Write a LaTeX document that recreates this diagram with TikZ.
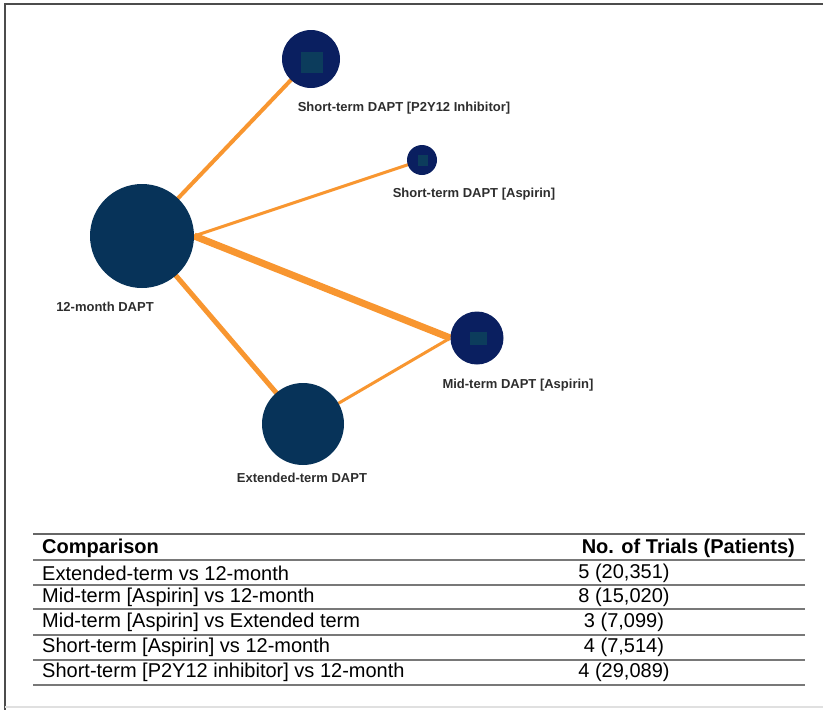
\documentclass[tikz,border=0pt]{standalone}
\usepackage{fontspec}
\setmainfont{Liberation Sans}
\usetikzlibrary{positioning, backgrounds}

\definecolor{bignode}{RGB}{7,51,89}
\definecolor{smallnode}{RGB}{10,31,96}
\definecolor{innersq}{RGB}{12,60,92}
\definecolor{linkorange}{RGB}{248,150,48}
\definecolor{labelgray}{RGB}{45,45,45}
\definecolor{rulegray}{RGB}{120,120,120}

\begin{document}
\begin{tikzpicture}[
    x=1pt, y=-1pt,
    trt/.style={circle, fill=#1, draw=none, inner sep=0pt},
    sq/.style={rectangle, fill=innersq, inner sep=0pt},
    link/.style={draw=linkorange, line cap=butt},
    lbl/.style={text=labelgray, font=\fontsize{13}{15}\selectfont\bfseries, inner sep=0pt},
    cell/.style={font=\fontsize{20}{24}\selectfont, text=black, inner sep=0pt},
    hdr/.style={cell, font=\fontsize{20}{24}\selectfont\bfseries},
    rule/.style={draw=rulegray, line width=2pt}
]
\useasboundingbox (0,0) rectangle (823,710);

\draw[draw=black!70, line width=2.5pt] (5,710) -- (5,4) -- (823,4);
\draw[draw=black!12, line width=1.5pt] (5,707) -- (823,707);

\node[trt=bignode, minimum size=104] (m12) at (142,236) {};
\node[trt=smallnode, minimum size=58] (p2y) at (311,59) {};
\node[sq, minimum width=22, minimum height=21] (p2ysq) at (311.5,62) {};
\node[trt=smallnode, minimum size=30] (asp) at (422,160) {};
\node[sq, minimum width=10, minimum height=11] (aspsq) at (423,160) {};
\node[trt=smallnode, minimum size=53] (mid) at (477,338) {};
\node[sq, minimum width=17, minimum height=13] (midsq) at (478.5,338.5) {};
\node[trt=bignode, minimum size=82] (ext) at (303,424) {};

\begin{scope}[on background layer]
\draw[link, line width=4pt] (m12.center) -- (p2y.center);
\draw[link, line width=3pt] (m12.east) -- (asp.center);
\draw[link, line width=7pt] (m12.east) -- (mid.west);
\draw[link, line width=5pt] (m12.center) -- (ext.center);
\draw[link, line width=3pt] (mid.west) -- (ext.center);
\end{scope}

\node[lbl] (m12lbl) at (105,307) {12-month DAPT};
\node[lbl] (p2ylbl) at (404,108) {Short-term DAPT [P2Y12 Inhibitor]};
\node[lbl] (asplbl) at (474,194) {Short-term DAPT [Aspirin]};
\node[lbl] (midlbl) at (518,385) {Mid-term DAPT [Aspirin]};
\node[lbl] (extlbl) at (302,478) {Extended-term DAPT};

\draw[rule, draw=black!60] (33,534) -- (805,534);
\draw[rule] (33,560) -- (805,560);
\draw[rule] (33,585) -- (805,585);
\draw[rule] (33,609) -- (805,609);
\draw[rule] (33,635) -- (805,635);
\draw[rule] (33,660) -- (805,660);
\draw[rule] (33,685) -- (805,685);

\node[hdr, anchor=west] (cmphdr) at (42,548) {Comparison};
\node[hdr, anchor=east] (trlhdr) at (795,548) {No. of Trials (Patients)};

\node[cell, anchor=west] (cmp1) at (42,573) {Extended-term vs 12-month};
\node[cell, anchor=west] (cmp2) at (42,597) {Mid-term [Aspirin] vs 12-month};
\node[cell, anchor=west] (cmp3) at (42,622) {Mid-term [Aspirin] vs Extended term};
\node[cell, anchor=west] (cmp4) at (42,647) {Short-term [Aspirin] vs 12-month};
\node[cell, anchor=west] (cmp5) at (42,672) {Short-term [P2Y12 inhibitor] vs 12-month};

\node[cell] (trl1) at (624,573) {5 (20,351)};
\node[cell] (trl2) at (624,597) {8 (15,020)};
\node[cell] (trl3) at (624,622) {3 (7,099)};
\node[cell] (trl4) at (624,647) {4 (7,514)};
\node[cell] (trl5) at (624,672) {4 (29,089)};
\end{tikzpicture}
\end{document}
